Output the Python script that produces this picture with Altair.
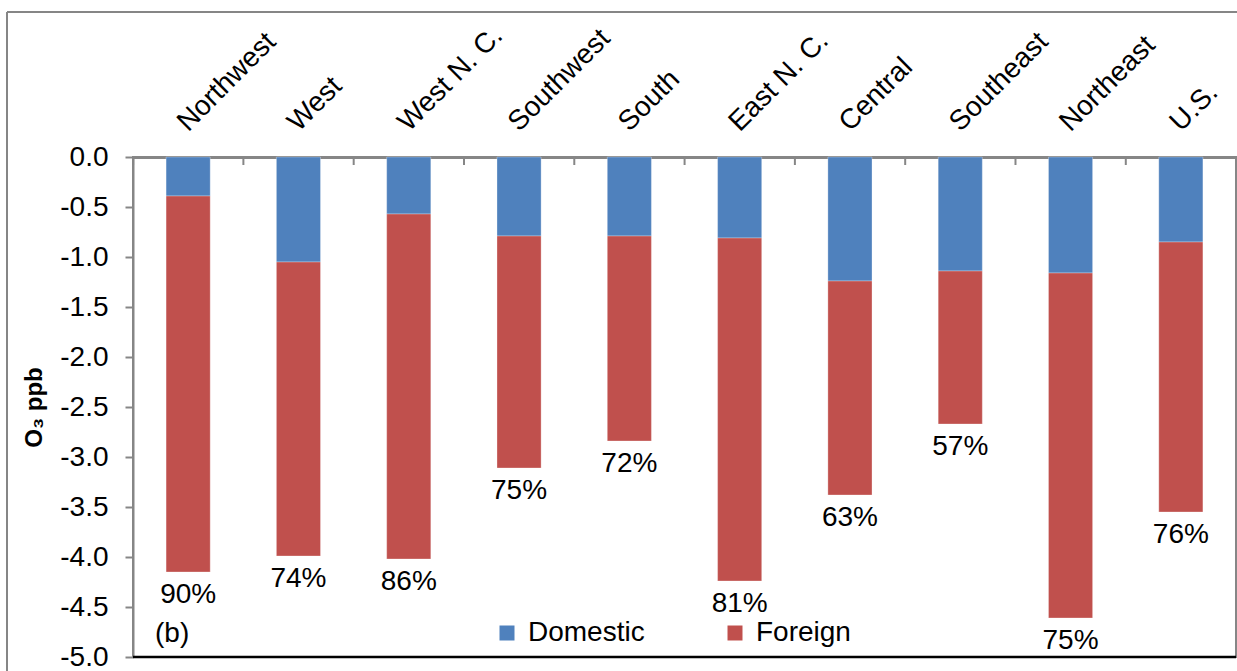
import altair as alt
import pandas as pd

regions = ["Northwest", "West", "West N. C.", "Southwest", "South",
           "East N. C.", "Central", "Southeast", "Northeast", "U.S."]
domestic = [-0.39, -1.05, -0.57, -0.79, -0.79, -0.81, -1.24, -1.14, -1.16, -0.85]
foreign = [-3.76, -2.94, -3.45, -2.32, -2.05, -3.43, -2.14, -1.53, -3.45, -2.70]
pct_labels = ["90%", "74%", "86%", "75%", "72%", "81%", "63%", "57%", "75%", "76%"]
series = ["Domestic", "Foreign"]
colors = ["#4F81BD", "#C0504D"]
ytick_values = [0.0, -0.5, -1.0, -1.5, -2.0, -2.5, -3.0, -3.5, -4.0, -4.5, -5.0]

FONT = "Liberation Sans"
GRAY = "#868686"
FS = 28

rows = []
for i, r in enumerate(regions):
    rows.append({"region": r, "source": "Domestic", "value": domestic[i], "order": 0})
    rows.append({"region": r, "source": "Foreign", "value": foreign[i], "order": 1})
bars_df = pd.DataFrame(rows)
labels_df = pd.DataFrame({
    "region": regions,
    "total": [d + f for d, f in zip(domestic, foreign)],
    "pct": pct_labels,
})
one = pd.DataFrame({"a": [0]})

x_scale = alt.Scale(paddingInner=0.6, paddingOuter=0.3)

bars = alt.Chart(bars_df).mark_bar(stroke="white", strokeWidth=0.6, strokeOpacity=0.5).encode(
    x=alt.X("region:N", sort=regions, scale=x_scale,
            axis=alt.Axis(orient="top", title=None, labelAngle=-45, labelAlign="left",
                          labelBaseline="alphabetic", labelFontSize=FS, labelColor="black",
                          ticks=False, labelPadding=25, domainColor=GRAY, domainWidth=3)),
    y=alt.Y("value:Q", stack="zero", scale=alt.Scale(domain=[-5, 0], nice=False),
            axis=alt.Axis(values=ytick_values,
                          labelExpr="datum.value == 0 ? '0.0' : '-' + format(-datum.value, '.1f')",
                          title="O₃ ppb",
                          titleFontSize=24, titleFontWeight="bold", titleColor="black",
                          titlePadding=13, labelFontSize=FS, labelColor="black",
                          labelPadding=17, tickSize=8, tickColor=GRAY, tickWidth=2,
                          domainColor=GRAY, domainWidth=2, grid=False)),
    color=alt.Color("source:N", scale=alt.Scale(domain=series, range=colors),
                    legend=alt.Legend(title=None, orient="none", legendX=360, legendY=462,
                                      direction="horizontal", symbolType="square",
                                      symbolSize=225, symbolStrokeWidth=0,
                                      labelFontSize=FS, labelColor="black",
                                      columnPadding=76, labelOffset=7)),
    order=alt.Order("order:Q"),
)

pct_text = alt.Chart(labels_df).mark_text(baseline="middle", dy=23, fontSize=FS, color="black").encode(
    x=alt.X("region:N", sort=regions),
    y=alt.Y("total:Q"),
    text="pct:N",
)

xticks = alt.Chart(labels_df).mark_rule(color=GRAY, strokeWidth=2, xOffset=-33).encode(
    x=alt.X("region:N", sort=regions, bandPosition=0),
    y=alt.value(0),
    y2=alt.value(8),
)

bottom = alt.Chart(one).mark_rule(color="black", strokeWidth=2.5).encode(y=alt.datum(-5.0))

panel_tag = alt.Chart(one).mark_text(align="left", baseline="middle", fontSize=FS, color="black").encode(
    x=alt.value(22), y=alt.datum(-4.77), text=alt.value("(b)")
)

frame_left = alt.Chart(one).mark_rule(color=GRAY, strokeWidth=2).encode(
    x=alt.value(-126), y=alt.value(-145), y2=alt.value(520))
frame_top = alt.Chart(one).mark_rule(color=GRAY, strokeWidth=2).encode(
    x=alt.value(-126), x2=alt.value(1110), y=alt.value(-145))

chart = alt.layer(bars, pct_text, xticks, bottom, panel_tag, frame_left, frame_top).properties(
    width=1103, height=500,
    autosize=alt.AutoSizeParams(type="none"),
    padding={"left": 133, "top": 157, "right": 1, "bottom": 14},
).configure(font=FONT).configure_view(stroke=GRAY, strokeWidth=2)

chart.save("out.html", embed_options={"renderer": "svg", "actions": False})
